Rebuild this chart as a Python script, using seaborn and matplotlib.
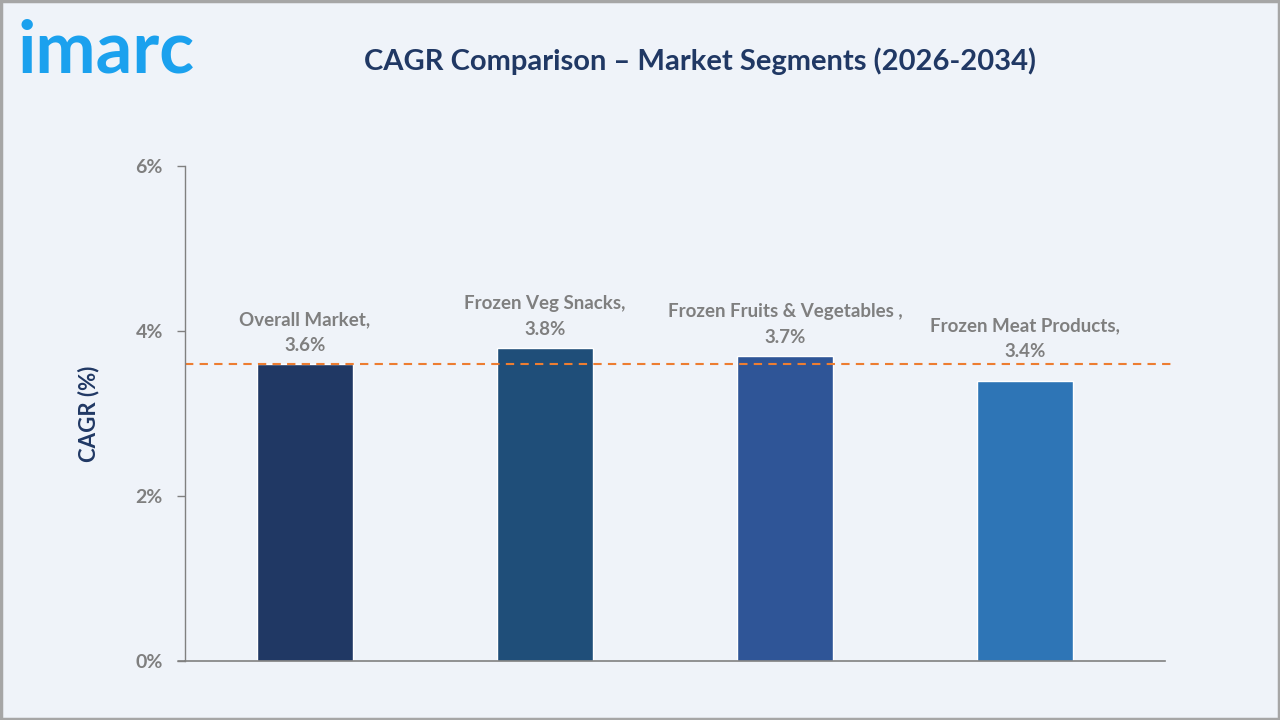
import matplotlib.pyplot as plt
import seaborn as sns
import pandas as pd
from matplotlib.patches import Rectangle

segments = ['Overall Market', 'Frozen Veg Snacks', 'Frozen Fruits & Vegetables ', 'Frozen Meat Products']
cagr = [3.6, 3.8, 3.7, 3.4]
bar_colors = ['#203864', '#1f4e79', '#2f5597', '#2e75b6']
y_ticks = [0, 2, 4, 6]
overall_cagr = 3.6

bg = '#eff3f9'
grey = '#7f7f7f'
navy = '#203864'

sns.set_theme(style='white')
plt.rcParams['font.family'] = ['Lato', 'DejaVu Sans']

df = pd.DataFrame({'segment': segments, 'cagr': cagr})

fig = plt.figure(figsize=(12.8, 7.2), dpi=100, facecolor=bg)
ax = fig.add_axes([0.1445, 0.082, 0.7655, 0.6874])
ax.set_facecolor(bg)

sns.barplot(data=df, x='segment', y='cagr', hue='segment', palette=bar_colors,
            legend=False, width=0.4, saturation=1, ax=ax)

ax.axhline(overall_cagr, color='#ed7d31', linestyle=(0, (4, 3)), linewidth=1.5,
           xmin=0, xmax=1.01, clip_on=False)

# labels sit above the bar, or just above the dashed line when the bar is lower
for i, (s, v) in enumerate(zip(segments, cagr)):
    base = v + 0.12 if v >= overall_cagr else overall_cagr + 0.05
    ax.text(i, base, f'{s},\n{v}%', ha='center', va='bottom', fontsize=13.5,
            color=grey, fontweight='bold', linespacing=1.6)

ax.set_ylim(0, 6)
ax.set_xlim(-0.5, 3.583)
ax.set_yticks(y_ticks)
ax.set_yticklabels([f'{t}%' for t in y_ticks], fontsize=14, color=grey, fontweight='bold')
ax.set_xticks([])
ax.set_xlabel('')
ax.set_ylabel('CAGR (%)', fontsize=16, color=navy, fontweight='bold', labelpad=26)

for side in ['top', 'right']:
    ax.spines[side].set_visible(False)
ax.spines['left'].set_color('#808080')
ax.spines['bottom'].set_color('#808080')
ax.spines['left'].set_linewidth(1)
ax.spines['bottom'].set_linewidth(1.2)
ax.tick_params(axis='y', direction='out', length=6, width=1, color='#808080', pad=10, left=True)

# x axis line extends slightly left of the y axis
ax.plot([-0.53, -0.5], [0, 0], color='#808080', linewidth=1.2, clip_on=False)

fig.text(0.547, 0.915, 'CAGR Comparison \u2013 Market Segments (2026-2034)', ha='center', va='center',
         fontsize=21, fontweight='bold', color=navy)
fig.text(0.014, 0.928, 'imarc', ha='left', va='center', fontsize=52, fontweight='bold',
         color='#1ba1ee')

fig.add_artist(Rectangle((0.001, 0.001), 0.998, 0.997, transform=fig.transFigure,
                         fill=False, edgecolor='#a6a6a6', linewidth=2.5))

fig.savefig('out.png', dpi=100, facecolor=bg)
